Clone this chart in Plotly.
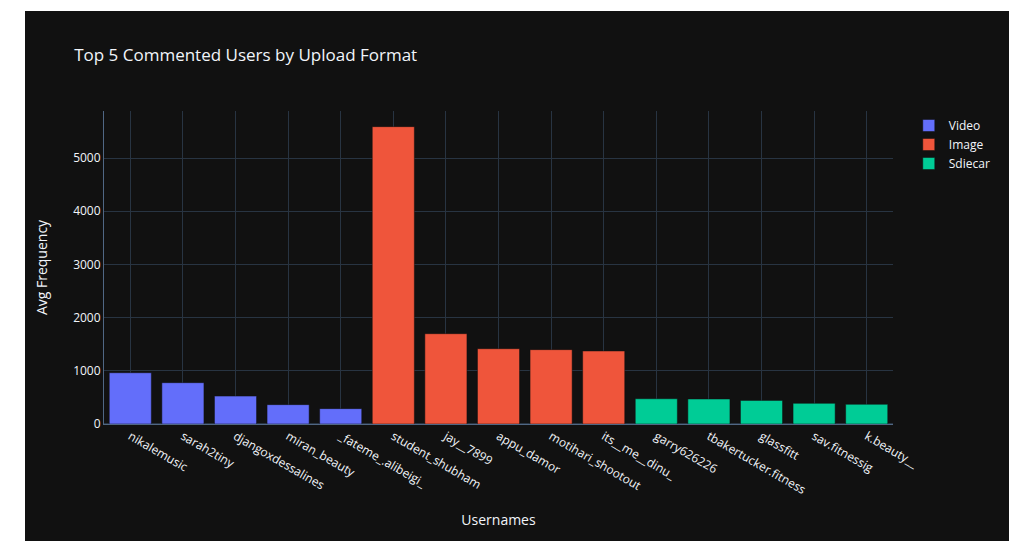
import plotly.graph_objects as go

video_users = ["nikalemusic", "sarah2tiny", "djangoxdessalines", "miran_beauty", "_fateme_.alibeigi_"]
video_values = [964, 777, 525, 364, 289]

image_users = ["student_shubham", "jay__7899", "appu_damor", "motihari_shootout", "its__me__dinu_"]
image_values = [5591, 1698, 1416, 1398, 1373]

sidecar_users = ["garry626226", "tbakertucker.fitness", "glassfitt", "sav.fitnessig", "k.beauty__"]
sidecar_values = [475, 470, 444, 388, 370]

fig = go.Figure()
fig.add_trace(go.Bar(name="Video", x=video_users, y=video_values, marker_color="#636efa"))
fig.add_trace(go.Bar(name="Image", x=image_users, y=image_values, marker_color="#EF553B"))
fig.add_trace(go.Bar(name="Sdiecar", x=sidecar_users, y=sidecar_values, marker_color="#00cc96"))

fig.update_layout(
    template="plotly_dark",
    width=984,
    height=530,
    margin=dict(l=79, r=116, t=100, b=116.5),
    barmode="relative",
    title=dict(text="Top 5 Commented Users by Upload Format"),
    xaxis=dict(
        title=dict(text="Usernames", standoff=18),
        tickangle=30,
        showgrid=True,
        gridcolor="#283442",
        showline=True,
        linecolor="#506784",
    ),
    yaxis=dict(
        title=dict(text="Avg Frequency", standoff=22),
        showgrid=True,
        gridcolor="#283442",
        showline=True,
        linecolor="#506784",
        zeroline=True,
        zerolinecolor="#283442",
    ),
    font=dict(family="Open Sans, verdana, arial, sans-serif"),
)

post = """
document.body.style.margin='0';
document.body.style.background='#ffffff';
var d=document.getElementById('{plot_id}');
d.style.marginLeft='25px';
d.style.marginTop='11px';
"""

fig.write_html("out.html", post_script=post)
